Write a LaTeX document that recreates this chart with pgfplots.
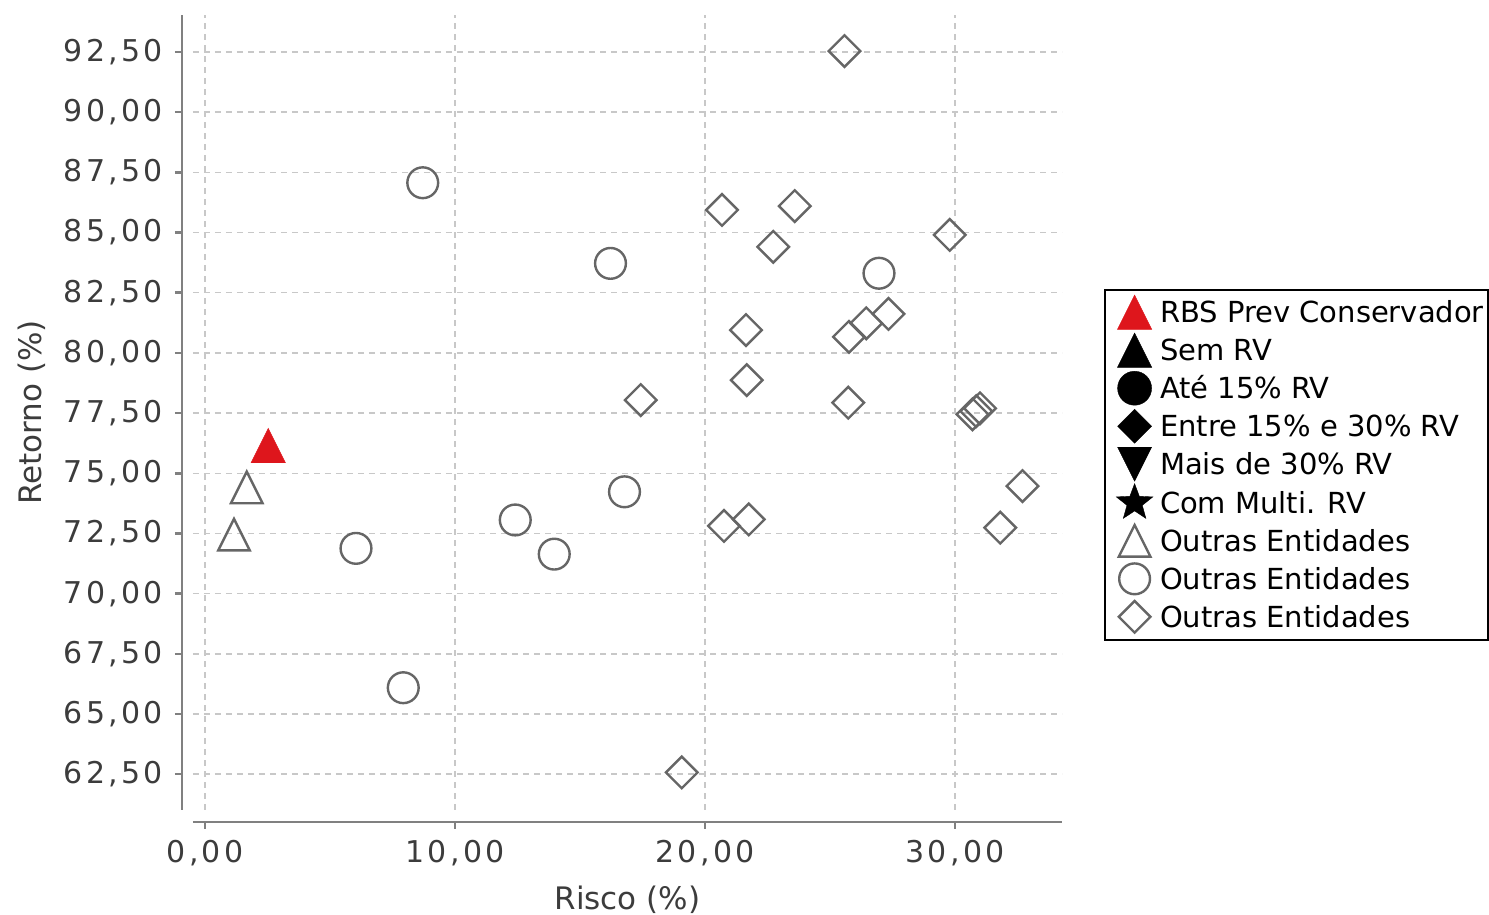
\documentclass[border=0pt]{standalone}
\usepackage{fontspec}
\setmainfont{DejaVu Sans}
\newfontfamily\tickfont[LetterSpace=11]{DejaVu Sans}
\usepackage{pgfplots}
\pgfplotsset{compat=1.18}

\definecolor{mgray}{RGB}{102,102,102}
\definecolor{gridgray}{RGB}{200,200,200}
\definecolor{axgray}{RGB}{128,128,128}
\definecolor{txtgray}{RGB}{60,60,60}
\definecolor{rbsred}{RGB}{222,22,28}

\pgfdeclareplotmark{jtri}{%
  \pgfpathmoveto{\pgfqpoint{0pt}{\pgfplotmarksize}}%
  \pgfpathlineto{\pgfqpoint{\pgfplotmarksize}{-\pgfplotmarksize}}%
  \pgfpathlineto{\pgfqpoint{-\pgfplotmarksize}{-\pgfplotmarksize}}%
  \pgfpathclose\pgfusepathqstroke}
\pgfdeclareplotmark{jtri*}{%
  \pgfpathmoveto{\pgfqpoint{0pt}{\pgfplotmarksize}}%
  \pgfpathlineto{\pgfqpoint{\pgfplotmarksize}{-\pgfplotmarksize}}%
  \pgfpathlineto{\pgfqpoint{-\pgfplotmarksize}{-\pgfplotmarksize}}%
  \pgfpathclose\pgfusepathqfillstroke}
\pgfdeclareplotmark{jtridown*}{%
  \pgfpathmoveto{\pgfqpoint{0pt}{-\pgfplotmarksize}}%
  \pgfpathlineto{\pgfqpoint{\pgfplotmarksize}{\pgfplotmarksize}}%
  \pgfpathlineto{\pgfqpoint{-\pgfplotmarksize}{\pgfplotmarksize}}%
  \pgfpathclose\pgfusepathqfillstroke}
\pgfdeclareplotmark{jdia}{%
  \pgfpathmoveto{\pgfqpoint{0pt}{\pgfplotmarksize}}%
  \pgfpathlineto{\pgfqpoint{\pgfplotmarksize}{0pt}}%
  \pgfpathlineto{\pgfqpoint{0pt}{-\pgfplotmarksize}}%
  \pgfpathlineto{\pgfqpoint{-\pgfplotmarksize}{0pt}}%
  \pgfpathclose\pgfusepathqstroke}
\pgfdeclareplotmark{jdia*}{%
  \pgfpathmoveto{\pgfqpoint{0pt}{\pgfplotmarksize}}%
  \pgfpathlineto{\pgfqpoint{\pgfplotmarksize}{0pt}}%
  \pgfpathlineto{\pgfqpoint{0pt}{-\pgfplotmarksize}}%
  \pgfpathlineto{\pgfqpoint{-\pgfplotmarksize}{0pt}}%
  \pgfpathclose\pgfusepathqfillstroke}
\pgfdeclareplotmark{jstar*}{%
  \pgfpathmoveto{\pgfpointpolar{90}{\pgfplotmarksize}}%
  \pgfpathlineto{\pgfpointpolar{126}{0.42\pgfplotmarksize}}%
  \pgfpathlineto{\pgfpointpolar{162}{\pgfplotmarksize}}%
  \pgfpathlineto{\pgfpointpolar{198}{0.42\pgfplotmarksize}}%
  \pgfpathlineto{\pgfpointpolar{234}{\pgfplotmarksize}}%
  \pgfpathlineto{\pgfpointpolar{270}{0.42\pgfplotmarksize}}%
  \pgfpathlineto{\pgfpointpolar{306}{\pgfplotmarksize}}%
  \pgfpathlineto{\pgfpointpolar{342}{0.42\pgfplotmarksize}}%
  \pgfpathlineto{\pgfpointpolar{18}{\pgfplotmarksize}}%
  \pgfpathlineto{\pgfpointpolar{54}{0.42\pgfplotmarksize}}%
  \pgfpathclose\pgfusepathqfillstroke}

\begin{document}
\begin{tikzpicture}
\begin{axis}[
  scale only axis, width=434.5pt, height=397.5pt,
  xmin=-0.48, xmax=34.28, ymin=61.01, ymax=94.04,
  axis lines=left,
  axis line style={-, axgray, line width=1.25pt},
  axis x line shift=6pt, axis y line shift=5.5pt,
  xtick={0,10,20,30},
  ytick={62.5,65,67.5,70,72.5,75,77.5,80,82.5,85,87.5,90,92.5},
  tick align=outside, major tick length=3.5pt,
  tick style={axgray, line width=1.25pt},
  grid=major,
  major grid style={gridgray, line width=0.75pt, dash pattern=on 3pt off 2.5pt},
  ticklabel style={font=\tickfont\fontsize{15}{15}\selectfont, text=txtgray},
  xticklabel style={yshift=-2pt},
  yticklabel style={xshift=-2.5pt},
  /pgf/number format/fixed, /pgf/number format/fixed zerofill,
  /pgf/number format/precision=2, /pgf/number format/use comma,
  /pgf/number format/assume math mode=true,
  xlabel={Risco (\%)}, ylabel={Retorno (\%)},
  label style={font=\fontsize{15.5}{15.5}\selectfont, text=txtgray},
  xlabel style={at={(axis description cs:0.5,0)}, anchor=base, yshift=-50pt},
  ylabel style={at={(axis description cs:-0.1738,0.5)}, anchor=base},
  legend style={at={(axis description cs:1,0.6553)}, anchor=north west, xshift=21pt,
    draw=black, line width=1pt, font=\fontsize{14.5}{14.5}\selectfont,
    inner xsep=2pt, inner ysep=1.8pt, row sep=0pt, column sep=0pt,
    nodes={inner xsep=0pt, inner ysep=0pt, text height=14.5pt, text depth=4.5pt}},
  legend cell align=left,
  legend image code/.code={\path (-12.3pt,0pt) (12.2pt,0pt);
    \draw[#1] plot coordinates {(0pt,0.2pt)};},
]
\coordinate (SW) at (rel axis cs:0,0);
\coordinate (NE) at (rel axis cs:1,1);

\addplot[only marks, mark=jtri*, mark size=8.6pt,
  mark options={fill=rbsred, draw=rbsred, line width=0.2pt, solid}]
  coordinates {(2.53,76.15)};
\addlegendentry{RBS Prev Conservador}

\addlegendimage{only marks, mark=jtri*, mark size=8.6pt, mark options={fill=black, draw=black, line width=0.2pt}}
\addlegendentry{Sem RV}
\addlegendimage{only marks, mark=*, mark size=8.5pt, mark options={fill=black, draw=black, line width=0.2pt}}
\addlegendentry{Até 15\% RV}
\addlegendimage{only marks, mark=jdia*, mark size=8.5pt, mark options={fill=black, draw=black, line width=0.2pt}}
\addlegendentry{Entre 15\% e 30\% RV}
\addlegendimage{only marks, mark=jtridown*, mark size=8.5pt, mark options={fill=black, draw=black, line width=0.2pt}}
\addlegendentry{Mais de 30\% RV}
\addlegendimage{only marks, mark=jstar*, mark size=9.6pt, mark options={fill=black, draw=black, line width=0.2pt}}
\addlegendentry{Com Multi. RV}

\addplot[only marks, mark=jtri, mark size=7.9pt,
  mark options={draw=mgray, fill=none, line width=1.2pt, solid}]
  coordinates {(1.67,74.41) (1.16,72.45)};
\addlegendentry{Outras Entidades}

\addplot[only marks, mark=o, mark size=7.7pt,
  mark options={draw=mgray, fill=none, line width=1.2pt, solid}]
  coordinates {(8.71,87.07) (6.04,71.88) (7.93,66.09) (12.41,73.06)
  (13.97,71.64) (16.78,74.23) (16.22,83.72) (26.96,83.31)};
\addlegendentry{Outras Entidades}

\addplot[only marks, mark=jdia, mark size=7.9pt,
  mark options={draw=mgray, fill=none, line width=1.2pt, solid}]
  coordinates {(25.58,92.54) (20.68,85.94) (23.59,86.10) (22.73,84.41)
  (29.79,84.90) (21.64,80.95) (25.76,80.67) (26.45,81.23) (27.34,81.62)
  (21.67,78.87) (17.43,78.04) (25.73,77.93) (30.70,77.45) (30.85,77.58)
  (31.00,77.70) (32.70,74.47) (31.81,72.74) (20.76,72.81) (21.75,73.08)
  (19.07,62.57)};
\addlegendentry{Outras Entidades}
\end{axis}
\pgfresetboundingbox
\path[use as bounding box] ([xshift=-96.5pt,yshift=-52.5pt]SW) rectangle ([xshift=213.5pt,yshift=7.5pt]NE);
\end{tikzpicture}
\end{document}
